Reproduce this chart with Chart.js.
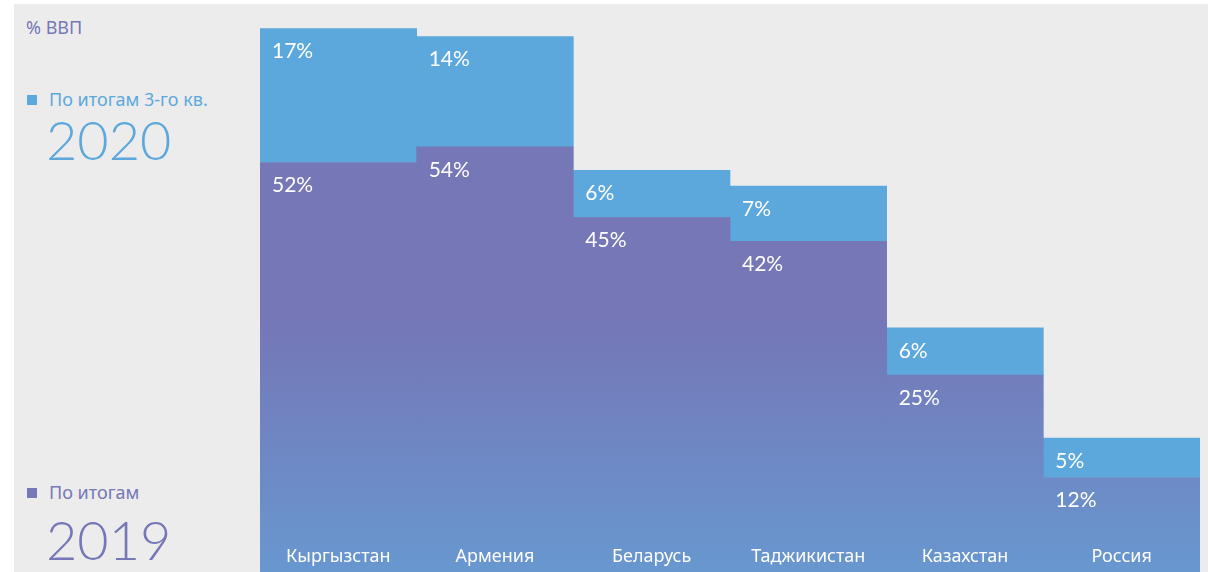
<!DOCTYPE html>
<html>
<head>
<meta charset="utf-8">
<script src="https://cdn.jsdelivr.net/npm/chart.js@4"></script>
<style>
  body { margin: 0; background: #fff; }
  #wrap { position: relative; width: 1208px; height: 572px; overflow: hidden; }
  #fon { position: absolute; left: 14px; top: 4px; width: 1194px; height: 568px; background: #ececec; }
  #grafico { position: absolute; left: 0; top: 0; }
  .txt { position: absolute; white-space: nowrap; font-family: "Lato", "Noto Sans", sans-serif; }
  .pequeno { font-size: 18px; font-family: "Noto Sans", sans-serif; }
  .quad { position: absolute; width: 10px; height: 10px; }
</style>
</head>
<body>
<div id="wrap">
  <div id="fon"></div>
  <div class="txt pequeno" style="left:26px; top:15px; color:#7577b7;">% ВВП</div>

  <div class="quad" style="left:27px; top:95px; background:#5ca8dc;"></div>
  <div class="txt pequeno" style="left:49px; top:87px; color:#5ca8dc;">По итогам 3-го кв.</div>
  <div class="txt" style="left:46px; top:107px; font-size:54px; font-weight:300; color:#5ca8dc;">2020</div>

  <div class="quad" style="left:27px; top:488px; background:#7577b7;"></div>
  <div class="txt pequeno" style="left:49px; top:480px; color:#7577b7;">По итогам</div>
  <div class="txt" style="left:46px; top:507px; font-size:54px; font-weight:300; color:#7577b7;">2019</div>

  <canvas id="grafico" width="1208" height="572"></canvas>
</div>
<script>
var paises = ['Кыргызстан', 'Армения', 'Беларусь', 'Таджикистан', 'Казахстан', 'Россия'];
var valores2019 = [52, 54, 45, 42, 25, 12];
var valores2020 = [17, 14, 6, 7, 6, 5];

// rotulos de valores e nomes dos paises dentro das barras
var rotulos = {
    id: 'rotulos',
    afterDatasetsDraw: function (chart) {
        var ctx = chart.ctx;
        ctx.save();
        ctx.fillStyle = '#ffffff';
        ctx.textBaseline = 'middle';
        ctx.textAlign = 'left';
        ctx.font = '21px Lato, "Noto Sans", sans-serif';
        chart.data.datasets.forEach(function (ds, i) {
            var meta = chart.getDatasetMeta(i);
            meta.data.forEach(function (barra, j) {
                var esquerda = barra.x - barra.width / 2;
                ctx.fillText(ds.data[j] + '%', esquerda + 12, barra.y + 23);
            });
        });
        ctx.textAlign = 'center';
        ctx.font = '18px "Noto Sans", sans-serif';
        var meta0 = chart.getDatasetMeta(0);
        meta0.data.forEach(function (barra, j) {
            ctx.fillText(paises[j], barra.x, chart.chartArea.bottom - 15);
        });
        ctx.restore();
    }
};

function degrade(context) {
    var chart = context.chart;
    var area = chart.chartArea;
    if (!area) {
        return '#7577b7';
    }
    var g = chart.ctx.createLinearGradient(0, area.top, 0, area.bottom);
    g.addColorStop(0, '#7577b7');
    g.addColorStop(0.56, '#7577b7');
    g.addColorStop(1, '#6897cf');
    return g;
}

var ctx = document.getElementById('grafico').getContext('2d');
var grafico = new Chart(ctx, {
    type: 'bar',
    data: {
        labels: paises,
        datasets: [{
            label: 'По итогам 2019',
            data: valores2019,
            backgroundColor: degrade,
            borderWidth: 0
        }, {
            label: 'По итогам 3-го кв. 2020',
            data: valores2020,
            backgroundColor: '#5ca8dc',
            borderWidth: 0
        }]
    },
    options: {
        responsive: false,
        animation: false,
        layout: {
            padding: { left: 260, right: 8, top: 5, bottom: 0 }
        },
        datasets: {
            bar: { barPercentage: 1, categoryPercentage: 1 }
        },
        scales: {
            x: { stacked: true, display: false },
            y: { stacked: true, display: false, min: 0, max: 72 }
        },
        plugins: {
            legend: { display: false },
            tooltip: { enabled: false }
        }
    },
    plugins: [rotulos]
});
</script>
</body>
</html>
